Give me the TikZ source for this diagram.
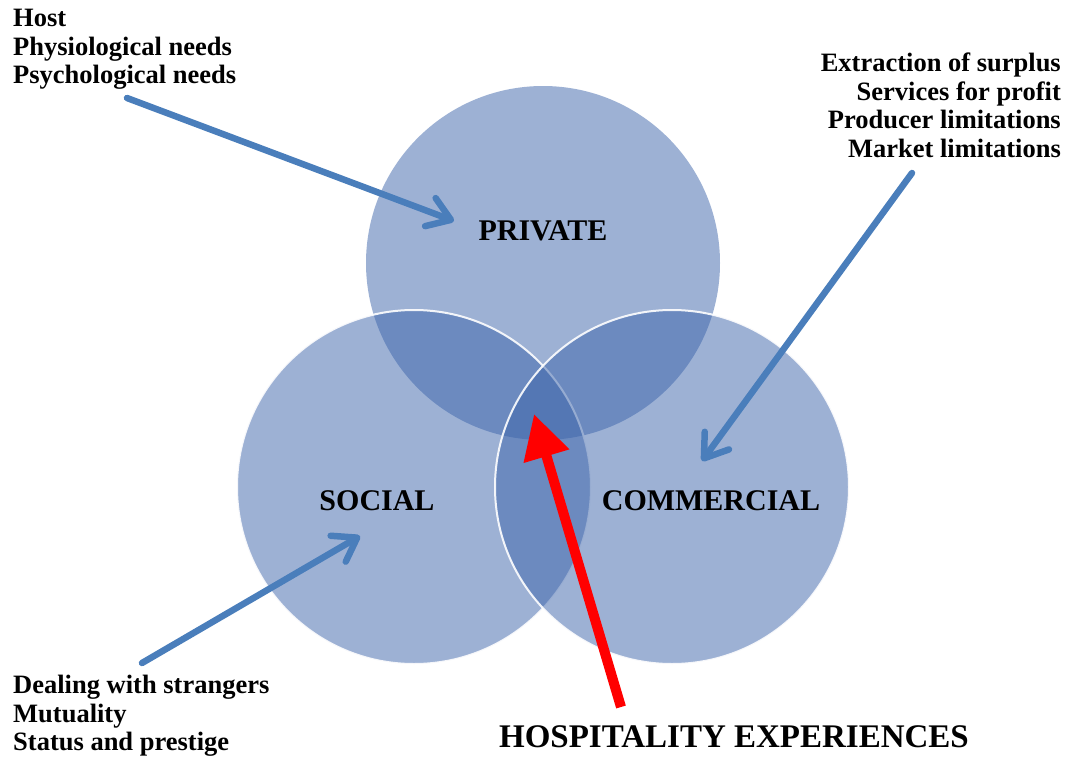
\documentclass[tikz,border=0pt]{standalone}
\usepackage{fontspec}
\setmainfont{Liberation Serif}
\usepackage{tikz}
\usetikzlibrary{arrows.meta}

\definecolor{venn}{RGB}{60,100,170}
\definecolor{pointer}{RGB}{74,126,187}

\begin{document}
\begin{tikzpicture}[x=1pt,y=-1pt]
    % `sphere' is used for the three circles.
    % `caption' is used for the circle names, `notes' for the lists.
    % `pointer' and `hospitality' are the arrows.
    \tikzstyle{sphere} = [circle,fill=venn,fill opacity=0.5,minimum size=354pt,inner sep=0pt]
    \tikzstyle{rim} = [draw=white,draw opacity=0.9,line width=2pt]
    \tikzstyle{caption} = [font=\fontsize{30}{32}\selectfont\bfseries,inner sep=0pt]
    \tikzstyle{notes} = [font=\fontsize{26.5}{28.5}\selectfont\bfseries,inner sep=0pt]
    \tikzstyle{pointer} = [draw=pointer,line width=6.5pt,line cap=round,
      -{Straight Barb[length=22pt,width=30pt,round]}]
    \tikzstyle{hospitality} = [draw=red,line width=10pt,-{Triangle[length=44pt,width=45pt]}]
    %
    \useasboundingbox (0,0) rectangle (1072,756);
    % circles
    \node[sphere] (private) at (543,263) {};
    \node[sphere,rim] (social) at (414,487) {};
    \node[sphere,rim] (commercial) at (672,487) {};
    % names
    \node[caption,anchor=base] (privname) at (543,240) {PRIVATE};
    \node[caption,anchor=base] (socname) at (377,510) {SOCIAL};
    \node[caption,anchor=base] (comname) at (711,510) {COMMERCIAL};
    % lists
    \node[notes,anchor=north west,align=left] (host) at (13,9)
      {Host\\Physiological needs\\Psychological needs};
    \node[notes,anchor=north east,align=right] (market) at (1061,53)
      {Extraction of surplus\\Services for profit\\Producer limitations\\Market limitations};
    \node[notes,anchor=north west,align=left] (strangers) at (13,675)
      {Dealing with strangers\\Mutuality\\Status and prestige};
    \node[font=\fontsize{33}{36}\selectfont\bfseries,inner sep=0pt,anchor=base] (experience)
      at (734,747) {HOSPITALITY EXPERIENCES};
    % arrow ends
    \coordinate (hostend) at (127,98);
    \coordinate (privtip) at (454,221);
    \coordinate (marketend) at (912,173);
    \coordinate (comtip) at (702,461);
    \coordinate (strangersend) at (142,663);
    \coordinate (soctip) at (360,536);
    \coordinate (experienceend) at (621,707);
    \coordinate (coretip) at (534,414);
    % arrows
    \draw[pointer] (hostend) -- (privtip);
    \draw[pointer] (marketend) -- (comtip);
    \draw[pointer] (strangersend) -- (soctip);
    \draw[hospitality] (experienceend) -- (coretip);
\end{tikzpicture}
\end{document}
